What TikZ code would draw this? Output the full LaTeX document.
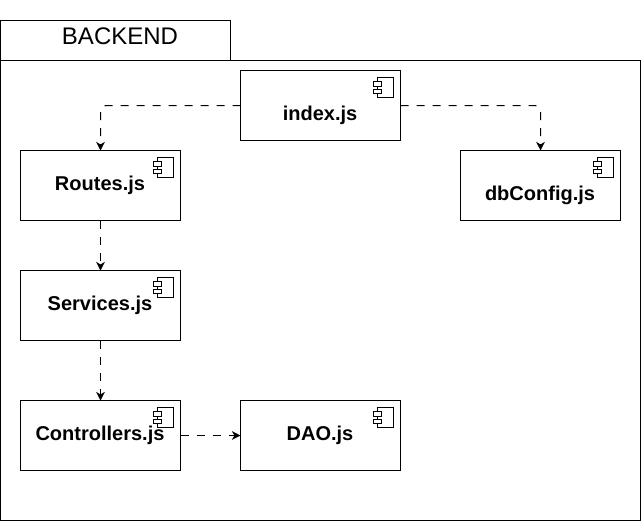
\documentclass[tikz,border=0pt]{standalone}
\usepackage{fontspec}
\setmainfont{Liberation Sans}
\usetikzlibrary{arrows.meta}
\tikzset{
  x=0.75pt,y=-0.75pt,
  every path/.append style={line width=0.75pt},
  frame/.style={draw=black,fill=white,line join=miter},
  compbox/.style={draw=black,fill=white,rectangle,minimum width=120pt,minimum height=52.5pt,inner sep=0pt,outer sep=0pt},
  complabel/.style={inner sep=0pt,font=\fontsize{15pt}{18pt}\selectfont\bfseries,text=black},
  tablabel/.style={inner sep=0pt,font=\fontsize{18pt}{21pt}\selectfont,text=black},
  dep/.style={draw=black,dash pattern=on 6pt off 6pt,rounded corners=4.5pt,-{Stealth[length=6.5pt,width=6.5pt,inset=2pt]}},
  pics/compicon/.style={code={
    \draw[fill=white] (-23,7) rectangle (-7,27);
    \draw[fill=white] (-27,11) rectangle (-19,15.5);
    \draw[fill=white] (-27,18.5) rectangle (-19,23);
  }}
}
\begin{document}
\begin{tikzpicture}
\useasboundingbox (0,0) rectangle (641,521);
\draw[frame] (0.5,20.5) rectangle (230.5,60.5);
\draw[frame] (0.5,60.5) rectangle (640.5,520.5);
\node[tablabel] (title) at (120,36) {BACKEND};

\node[compbox] (index) at (320.5,105.5) {};
\node[compbox] (routes) at (100.5,185.5) {};
\node[compbox] (services) at (100.5,305.5) {};
\node[compbox] (controllers) at (100.5,435.5) {};
\node[compbox] (dao) at (320.5,435.5) {};
\node[compbox] (db) at (540.5,185.5) {};

\foreach \b in {index,routes,services,controllers,dao,db}
  \pic at (\b.north east) {compicon};

\node[complabel] (lindex) at (320,115) {index.js};
\node[complabel] (lroutes) at (100,185) {Routes.js};
\node[complabel] (lservices) at (100,305) {Services.js};
\node[complabel] (lcontrollers) at (100,435) {Controllers.js};
\node[complabel] (ldao) at (320,435) {DAO.js};
\node[complabel] (ldb) at (540,195) {dbConfig.js};

\draw[dep] (index.west) -| (routes.north);
\draw[dep] (index.east) -| (db.north);
\draw[dep] (routes.south) -- (services.north);
\draw[dep] (services.south) -- (controllers.north);
\draw[dep] (controllers.east) -- (dao.west);
\end{tikzpicture}
\end{document}
